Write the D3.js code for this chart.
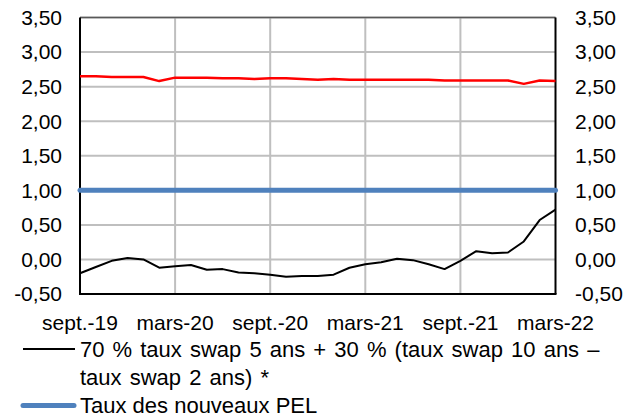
<!DOCTYPE html>
<html><head><meta charset="utf-8">
<script src="https://cdn.jsdelivr.net/npm/d3@7/dist/d3.min.js"></script>
<style>body{margin:0;background:#fff}svg{display:block}text{font-family:"Liberation Sans",Arial,sans-serif;fill:#000}</style>
</head><body>
<svg id="c" width="633" height="417"></svg>
<script>
const months = ["sept.-19","oct.-19","nov.-19","déc.-19","janv.-20","févr.-20","mars-20","avr.-20","mai-20","juin-20","juil.-20","août-20","sept.-20","oct.-20","nov.-20","déc.-20","janv.-21","févr.-21","mars-21","avr.-21","mai-21","juin-21","juil.-21","août-21","sept.-21","oct.-21","nov.-21","déc.-21","janv.-22","févr.-22","mars-22"];
const tickLabels = ["sept.-19","mars-20","sept.-20","mars-21","sept.-21","mars-22"];
const yTicks = [-0.5,0,0.5,1,1.5,2,2.5,3,3.5];
const swapSeries = [-0.20,-0.11,-0.02,0.02,0.00,-0.12,-0.10,-0.08,-0.15,-0.14,-0.19,-0.20,-0.22,-0.25,-0.24,-0.24,-0.22,-0.12,-0.07,-0.04,0.01,-0.01,-0.07,-0.14,-0.02,0.12,0.09,0.10,0.26,0.57,0.72];
const pelSeries = months.map(()=>1.00);
const redSeries = [2.65,2.65,2.64,2.64,2.64,2.58,2.63,2.63,2.63,2.62,2.62,2.61,2.62,2.62,2.61,2.60,2.61,2.60,2.60,2.60,2.60,2.60,2.60,2.59,2.59,2.59,2.59,2.59,2.54,2.59,2.58];
const legendLabels = [["70 % taux swap 5 ans + 30 % (taux swap 10 ans –","taux swap 2 ans) *"],["Taux des nouveaux PEL"]];

const svg = d3.select("#c");
const L=80,R=555.5,T=17.5,B=294;
const x = d3.scalePoint().domain(months).range([L,R]);
const y = d3.scaleLinear().domain([-0.5,3.5]).range([B,T]);
const fmt = v => d3.format(".2f")(v).replace(".",",").replace("−","-");

const g = svg.append("g");
g.selectAll(".hg").data(yTicks).join("line")
 .attr("x1",L).attr("x2",R).attr("y1",d=>y(d)).attr("y2",d=>y(d))
 .attr("stroke","#bfbfbf").attr("stroke-width",2);
g.selectAll(".vg").data(tickLabels.slice(1,-1)).join("line")
 .attr("x1",d=>x(d)).attr("x2",d=>x(d)).attr("y1",T).attr("y2",B)
 .attr("stroke","#bfbfbf").attr("stroke-width",2);
g.append("line").attr("x1",L).attr("x2",R).attr("y1",T).attr("y2",T).attr("stroke","#595959").attr("stroke-width",1.5);
g.append("line").attr("x1",L).attr("x2",L).attr("y1",T).attr("y2",B).attr("stroke","#000").attr("stroke-width",2);
g.append("line").attr("x1",R).attr("x2",R).attr("y1",T).attr("y2",B).attr("stroke","#000").attr("stroke-width",2);
g.append("line").attr("x1",L-1).attr("x2",R+1).attr("y1",B).attr("y2",B).attr("stroke","#000").attr("stroke-width",2);

const fs = 21, lfs = 22;
svg.selectAll(".yl").data(yTicks).join("text")
 .attr("x",62).attr("y",d=>y(d)).attr("dy","0.35em").attr("text-anchor","end")
 .attr("font-size",fs).text(fmt);
svg.selectAll(".yr").data(yTicks).join("text")
 .attr("x",575).attr("y",d=>y(d)).attr("dy","0.35em").attr("text-anchor","start")
 .attr("font-size",fs).text(fmt);
svg.selectAll(".xl").data(tickLabels).join("text")
 .attr("x",d=>x(d)).attr("y",330).attr("text-anchor","middle")
 .attr("font-size",fs).text(d=>d);

const line = d3.line().x((d,i)=>x(months[i])).y(d=>y(d));
svg.append("path").datum(redSeries).attr("d",line).attr("fill","none").attr("stroke","#ff0000").attr("stroke-width",2.5).attr("stroke-linejoin","round");
svg.append("path").datum(pelSeries).attr("d",line).attr("fill","none").attr("stroke","#4f81bd").attr("stroke-width",5).attr("stroke-linecap","round");
svg.append("path").datum(swapSeries).attr("d",line).attr("fill","none").attr("stroke","#000").attr("stroke-width",2).attr("stroke-linejoin","round");

svg.append("line").attr("x1",23).attr("x2",75).attr("y1",349).attr("y2",349).attr("stroke","#000").attr("stroke-width",2);
svg.append("text").attr("x",80).attr("y",357).attr("font-size",lfs).attr("word-spacing",2).text(legendLabels[0][0]);
svg.append("text").attr("x",80).attr("y",385).attr("font-size",lfs).attr("word-spacing",2).text(legendLabels[0][1]);
svg.append("line").attr("x1",23).attr("x2",74).attr("y1",405.5).attr("y2",405.5).attr("stroke","#4f81bd").attr("stroke-width",5).attr("stroke-linecap","round");
svg.append("text").attr("x",80).attr("y",413).attr("font-size",lfs).text(legendLabels[1][0]);
</script>
</body></html>
